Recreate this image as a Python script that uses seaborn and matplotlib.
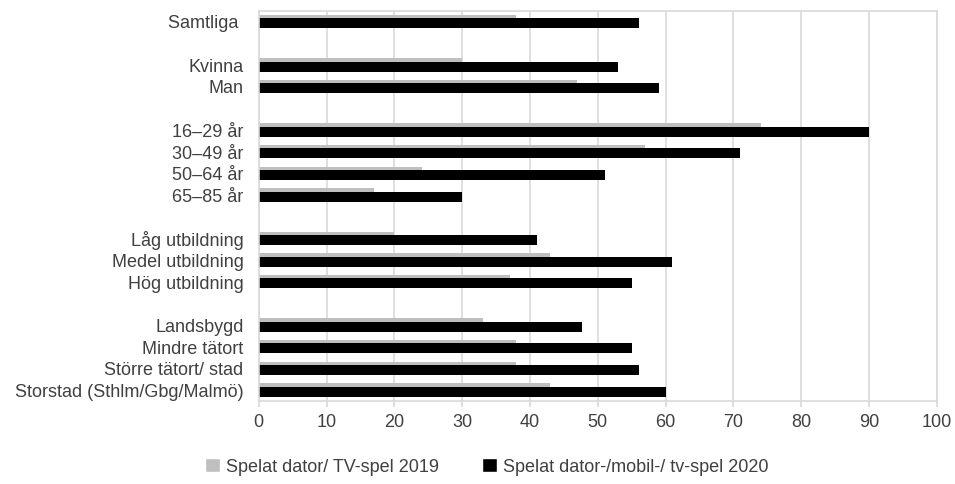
import numpy as np
import pandas as pd
import matplotlib.pyplot as plt
import seaborn as sns
from matplotlib.patches import Patch

# Categories, with None marking the empty spacer rows between groups
categories = ["Samtliga ", None, "Kvinna", "Man", None,
              "16–29 år", "30–49 år", "50–64 år", "65–85 år", None,
              "Låg utbildning", "Medel utbildning", "Hög utbildning", None,
              "Landsbygd", "Mindre tätort", "Större tätort/ stad",
              "Storstad (Sthlm/Gbg/Malmö)"]

values_2019 = [38, None, 30, 47, None, 74, 57, 24, 17, None,
               20, 43, 37, None, 33, 38, 38, 43]
values_2020 = [56, None, 53, 59, None, 90, 71, 51, 30, None,
               41, 61, 55, None, 47.6, 55, 56, 60]

label_2019 = "Spelat dator/ TV-spel 2019"
label_2020 = "Spelat dator-/mobil-/ tv-spel 2020"

sns.set_theme(style="white")
plt.rcParams["font.family"] = ["Liberation Sans", "DejaVu Sans"]

df = pd.DataFrame({"label": categories, "v2019": values_2019, "v2020": values_2020})
df["pos"] = np.arange(len(df))
df = df.dropna()

fig = plt.figure(figsize=(9.55, 4.84), dpi=100)
ax = fig.add_axes([0.271, 0.171, 0.710, 0.806])

grid_col = "#d9d9d9"
text_col = "#404040"
ax.set_axisbelow(True)
ax.xaxis.grid(True, color=grid_col, linewidth=1.2)

# gray 2019 bar sits partly behind the wider black 2020 bar
sns.barplot(x=df["v2019"], y=df["pos"] - 0.24, orient="y", native_scale=True,
            width=0.16, color="#bfbfbf", saturation=1, linewidth=0, ax=ax)
sns.barplot(x=df["v2020"], y=df["pos"] + 0.06, orient="y", native_scale=True,
            width=0.46, color="black", saturation=1, linewidth=0, ax=ax)

ax.set_xlim(0, 100)
ax.set_ylim(len(categories) - 0.5, -0.5)
ax.set_xticks(range(0, 101, 10))
ax.set_yticks(df["pos"])
ax.set_yticklabels(df["label"])
ax.set_xlabel("")
ax.set_ylabel("")

ax.tick_params(axis="x", length=4, color=grid_col, labelsize=13,
               labelcolor=text_col, pad=5, bottom=True)
ax.tick_params(axis="y", length=0, labelsize=13, labelcolor=text_col, pad=11)
for s in ax.spines.values():
    s.set_color(grid_col)
    s.set_linewidth(1.2)

handles = [Patch(facecolor="#bfbfbf", label=label_2019),
           Patch(facecolor="black", label=label_2020)]
fig.legend(handles=handles, loc="center", bbox_to_anchor=(0.51, 0.035), ncol=2,
           frameon=False, fontsize=13, handlelength=0.8, handleheight=0.8,
           handletextpad=0.35, columnspacing=2.4, labelcolor=text_col)

fig.savefig("out.png", dpi=100)
